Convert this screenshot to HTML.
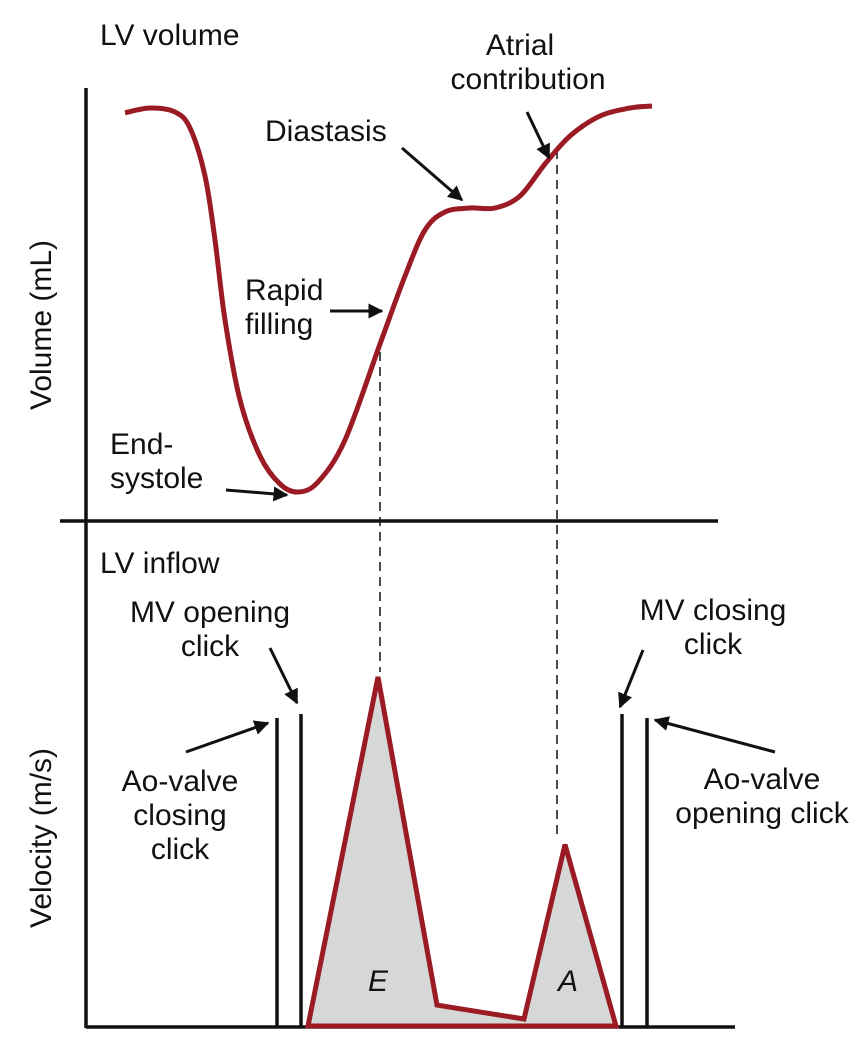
<!DOCTYPE html>
<html><head><meta charset="utf-8"><style>
html,body{margin:0;padding:0;background:#fff}
svg{display:block}
text{font-family:"Liberation Sans",Arial,sans-serif;font-size:30px;fill:#111}
</style></head><body>
<svg id="chart" width="864" height="1046" viewBox="0 0 864 1046">
<defs><marker id="ah" viewBox="0 0 10 10" refX="9" refY="5" markerWidth="5" markerHeight="5" orient="auto"><path d="M0,0 L10,5 L0,10 z" fill="#111"/></marker></defs>
<g id="axes" stroke="#111" stroke-width="3.5" fill="none">
<line x1="86" y1="88" x2="86" y2="522"/>
<line x1="60" y1="521" x2="718" y2="521"/>
<line x1="86" y1="521" x2="86" y2="1028"/>
<line x1="86" y1="1027" x2="735" y2="1027"/>
</g>
<text x="100" y="45">LV volume</text>
<text x="100" y="573">LV inflow</text>
<text transform="translate(51,325) rotate(-90)" text-anchor="middle">Volume (mL)</text>
<text transform="translate(51,838) rotate(-90)" text-anchor="middle">Velocity (m/s)</text>
<g id="dashes" stroke="#111" stroke-width="1.5" stroke-dasharray="9,6">
<line x1="380" y1="352" x2="380" y2="672"/>
<line x1="557" y1="150" x2="557" y2="838"/>
</g>
<g id="marks"></g>
<g id="clicks" stroke="#111" stroke-width="3.5">
<line x1="277" y1="718" x2="277" y2="1027"/>
<line x1="301" y1="714" x2="301" y2="1027"/>
<line x1="622" y1="714" x2="622" y2="1027"/>
<line x1="647" y1="718" x2="647" y2="1027"/>
</g>
<g stroke="#111" stroke-width="3" marker-end="url(#ah)">
<line x1="402" y1="148" x2="462" y2="200"/>
<line x1="527" y1="112" x2="549" y2="158"/>
<line x1="330" y1="311" x2="382" y2="311"/>
<line x1="226" y1="490" x2="287" y2="495"/>
<line x1="270" y1="648" x2="297" y2="703"/>
<line x1="186" y1="752" x2="268" y2="723"/>
<line x1="643" y1="650" x2="620" y2="707"/>
<line x1="775" y1="752" x2="655" y2="720"/>
</g>
<text x="265" y="141">Diastasis</text>
<text x="520" y="55" text-anchor="middle">Atrial</text>
<text x="528" y="89" text-anchor="middle">contribution</text>
<text x="245" y="300">Rapid</text>
<text x="245" y="334">filling</text>
<text x="110" y="454">End-</text>
<text x="110" y="488">systole</text>
<text x="210" y="622" text-anchor="middle">MV opening</text>
<text x="210" y="656" text-anchor="middle">click</text>
<text x="713" y="620" text-anchor="middle">MV closing</text>
<text x="713" y="654" text-anchor="middle">click</text>
<text x="180" y="791" text-anchor="middle">Ao-valve</text>
<text x="180" y="825" text-anchor="middle">closing</text>
<text x="180" y="859" text-anchor="middle">click</text>
<text x="762" y="789" text-anchor="middle">Ao-valve</text>
<text x="762" y="823" text-anchor="middle">opening click</text>
<text x="378" y="991" text-anchor="middle" font-style="italic">E</text>
<text x="568" y="991" text-anchor="middle" font-style="italic">A</text>
</svg>
<script>
const volTime=[39,64,89,104,119,129,139,154,174,194,212,232,259,294,319,339,359,384,409,434,459,484,514,544,566];
const volValues=[101.8,103,102,98,86,70,50,30,16,9,7,9.5,20,44,61,72.5,77,78,78,81,89,96,101,103,103.5];
const velTime=[222,292,351,438,479,530];
const velValues=[0,1.0,0.06,0.02,0.52,0];
function xScale(t){return 86+t;}
function yVol(v){return 520-v*4;}
function yVel(u){return 1026-u*349;}
const NS='http://www.w3.org/2000/svg';
const g=document.getElementById('marks');
const pts=volTime.map((t,i)=>[xScale(t),yVol(volValues[i])]);
let d='M'+pts[0][0]+','+pts[0][1];
for(let i=0;i<pts.length-1;i++){
 const p0=pts[Math.max(0,i-1)],p1=pts[i],p2=pts[i+1],p3=pts[Math.min(pts.length-1,i+2)];
 const c1=[p1[0]+(p2[0]-p0[0])/6,p1[1]+(p2[1]-p0[1])/6];
 const c2=[p2[0]-(p3[0]-p1[0])/6,p2[1]-(p3[1]-p1[1])/6];
 d+=' C'+c1+' '+c2+' '+p2;
}
const vp=document.createElementNS(NS,'path');
vp.setAttribute('d',d);vp.setAttribute('fill','none');vp.setAttribute('stroke','#9b1b24');vp.setAttribute('stroke-width','5');


g.appendChild(vp);
const poly=document.createElementNS(NS,'polygon');
poly.setAttribute('points',velTime.map((t,i)=>xScale(t)+','+yVel(velValues[i])).join(' '));
poly.setAttribute('fill','#d6d7d7');poly.setAttribute('stroke','#9b1b24');poly.setAttribute('stroke-width','5');poly.setAttribute('stroke-linejoin','miter');


g.appendChild(poly);
</script>
</body></html>
